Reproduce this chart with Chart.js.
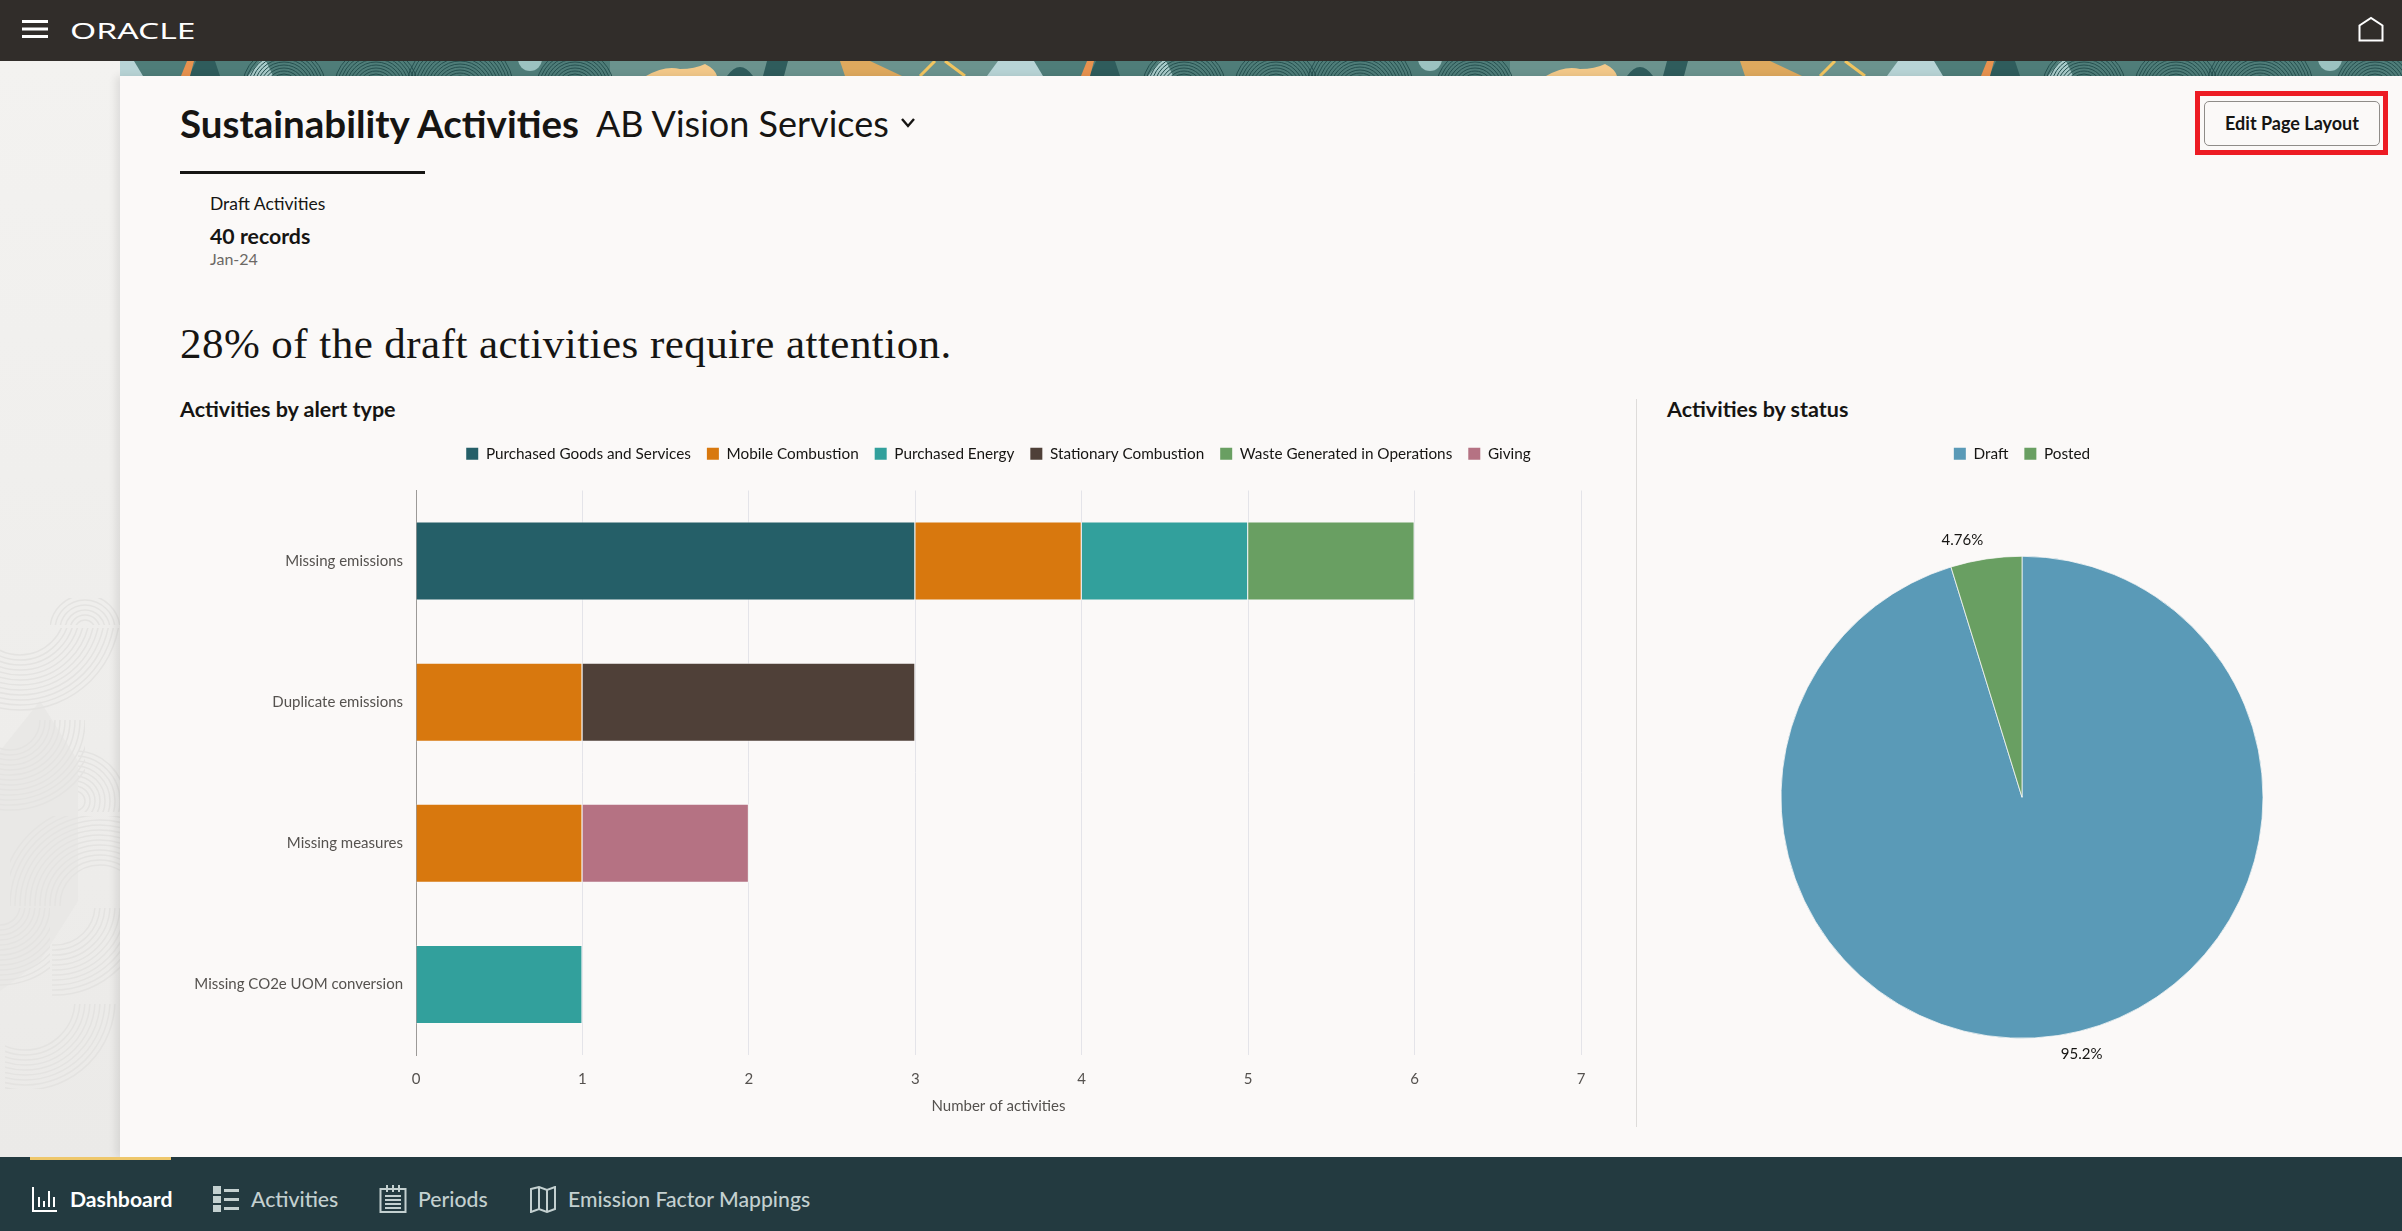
<!DOCTYPE html>
<html>
<head>
<meta charset="utf-8">
<title>Sustainability Activities</title>
<script src="https://cdn.jsdelivr.net/npm/chart.js@4/dist/chart.umd.js"></script>
<style>
  html, body { margin: 0; padding: 0; width: 2402px; height: 1231px; overflow: hidden; background: #fbf9f8; font-family: Lato, "Noto Sans", sans-serif; color: #161513; }
  .abs { position: absolute; white-space: nowrap; }
  #topbar { position: absolute; left: 0; top: 0; width: 2402px; height: 61px; background: #312d2a; }
  #banner { position: absolute; left: 0; top: 61px; width: 2402px; height: 15px; }
  #side { position: absolute; left: 0; top: 61px; width: 120px; height: 1096px; background: linear-gradient(#f3f2f0, #ebeae8); }
  #card { position: absolute; left: 120px; top: 76px; width: 2282px; height: 1081px; background: #fbf9f8; box-shadow: -4px 0 8px rgba(0,0,0,.09); }
  #footer { position: absolute; left: 0; top: 1157px; width: 2402px; height: 74px; background: #233a40; }
  #tab { position: absolute; left: 30px; top: 1157px; width: 141px; height: 3px; background: #eec76b; }
  .nav { font-size: 21.2px; line-height: 28px; top: 1185px; color: #c3d0d0; font-weight: 500; }
  .sec { font-size: 21.5px; line-height: 24px; font-weight: 700; top: 397px; }
  canvas { position: absolute; }
</style>
</head>
<body>
<div id="topbar"></div>
<svg id="banner" width="2402" height="15"></svg>
<div id="side"><svg id="swirl" width="120" height="1096"></svg></div>
<div id="card"></div>

<!-- header bar -->
<svg class="abs" style="left:22px;top:20px" width="26" height="18"><path d="M0 1.5H26M0 9H26M0 16.5H26" stroke="#fff" stroke-width="3"/></svg>
<div class="abs" style="left:70px;top:16px;font-size:21px;line-height:30px;color:#fff;transform:scaleX(1.6);transform-origin:left center;font-family:'Noto Sans';font-weight:400;">ORACLE</div>
<svg class="abs" style="left:2358px;top:16px" width="26" height="26"><path d="M1.5 24.5V9.5L13 2L24.5 9.5V24.5Z" fill="none" stroke="#fff" stroke-width="2"/></svg>

<!-- page header -->
<div class="abs" style="left:180px;top:100px;font-size:38.5px;line-height:46px;font-weight:700;">Sustainability Activities</div>
<div class="abs" style="left:596px;top:100px;font-size:36px;line-height:46px;font-weight:400;">AB Vision Services</div>
<svg class="abs" style="left:900px;top:117px" width="16" height="12"><path d="M2 2L8 9L14 2" fill="none" stroke="#161513" stroke-width="2.4"/></svg>
<div class="abs" style="left:180px;top:171px;width:245px;height:3px;background:#161513"></div>
<div class="abs" style="left:210px;top:193px;font-size:17.5px;line-height:22px;">Draft Activities</div>
<div class="abs" style="left:210px;top:223px;font-size:21.3px;line-height:26px;font-weight:700;">40 records</div>
<div class="abs" style="left:210px;top:250px;font-size:16px;line-height:18px;color:#6b6865;">Jan-24</div>
<div class="abs" style="left:180px;top:318px;font-size:43px;line-height:52px;letter-spacing:.45px;font-family:'Liberation Serif',serif;">28% of the draft activities require attention.</div>

<!-- edit button with red marker -->
<div class="abs" style="left:2195px;top:91px;width:183px;height:54px;border:5px solid #ed1c24;"></div>
<div class="abs" style="left:2204px;top:101px;width:174px;height:43px;border:1px solid #8f8c89;border-radius:5px;text-align:center;font-size:18px;line-height:43px;font-weight:700;">Edit Page Layout</div>

<!-- section heads -->
<div class="abs sec" style="left:180px;">Activities by alert type</div>
<div class="abs sec" style="left:1667px;">Activities by status</div>
<div class="abs" style="left:1636px;top:399px;width:1px;height:728px;background:#dedcda"></div>

<canvas id="chart-alert" width="1440" height="700" style="left:170px;top:430px"></canvas>
<canvas id="chart-status" width="724" height="674" style="left:1660px;top:430px"></canvas>

<!-- bottom nav -->
<div id="footer"></div>
<div id="tab"></div>
<svg class="abs" style="left:31px;top:1186px" width="27" height="27" fill="none" stroke="#fff" stroke-width="2"><path d="M2 1V25H26M8 21V11M13 21V15M18 21V5M23 21V11"/></svg>
<div class="abs nav" style="left:70px;color:#fff;font-weight:700;">Dashboard</div>
<svg class="abs" style="left:213px;top:1186px" width="27" height="27" fill="#c3d0d0"><path d="M0 0H8V8H0ZM0 10H8V17H0ZM0 19H8V26H0ZM11 3H26V6H11ZM11 12H26V15H11ZM11 21H26V24H11Z"/></svg>
<div class="abs nav" style="left:251px;">Activities</div>
<svg class="abs" style="left:379px;top:1184px" width="28" height="30" fill="none" stroke="#c3d0d0" stroke-width="2"><path d="M1.5 5H26.5V28H1.5ZM8 1V8M14 1V8M20 1V8M6 12H22M6 16H22M6 20H22M6 24H22"/></svg>
<div class="abs nav" style="left:418px;">Periods</div>
<svg class="abs" style="left:530px;top:1186px" width="27" height="27" fill="none" stroke="#c3d0d0" stroke-width="2"><path d="M1 3L9 1L17 4L25 1V23L17 26L9 23L1 26ZM9 1V23M17 4V26"/></svg>
<div class="abs nav" style="left:568px;">Emission Factor Mappings</div>

<script>
/* ------------------------------
 * chart values
 * ------------------------------ */
const alertTypes = ['Missing emissions', 'Duplicate emissions', 'Missing measures', 'Missing CO2e UOM conversion'];
const purchasedGoods = [3, null, null, null];
const mobileCombustion = [1, 1, 1, null];
const purchasedEnergy = [1, null, null, 1];
const stationaryCombustion = [null, 2, null, null];
const wasteGenerated = [1, null, null, null];
const giving = [null, null, 1, null];
const activityTicks = [0, 1, 2, 3, 4, 5, 6, 7];

const statuses = ['Draft', 'Posted'];
const statusCounts = [40, 2];
const statusLabels = ['95.2%', '4.76%'];

const COLORS = {
  goods: '#255f68',
  mobile: '#d8780e',
  energy: '#32a09c',
  stationary: '#4f4038',
  waste: '#699f62',
  giving: '#b57283',
  draft: '#5a9ab7',
  posted: '#699f62',
  seam: 'rgba(251,249,248,.75)'
};
const FONT = 'Lato, "Noto Sans", sans-serif';

Chart.defaults.font.family = FONT;
Chart.defaults.animation = false;

/* ------------------------------
 * legend: extra room under the legend row
 * ------------------------------ */
const legendGap = {
  id: 'legendGap',
  beforeLayout(chart) {
    const legend = chart.legend;
    if (legend._gapDone) return;
    const fit = legend.fit;
    legend.fit = function () {
      fit.call(this);
      this.height += 19.2;
    };
    legend._gapDone = true;
  }
};

const legendOptions = {
  position: 'top',
  fullSize: false,
  labels: {
    boxWidth: 12,
    boxHeight: 12,
    padding: 16,
    color: '#161513',
    font: { size: 15.3 },
    filter(item) { item.lineWidth = 0; return true; }
  }
};

/* ------------------------------
 * 1) activities by alert type (stacked bars)
 * ------------------------------ */
function barSet(label, data, color) {
  return { label, data, backgroundColor: color, borderColor: COLORS.seam, borderWidth: 1, barPercentage: 0.56, categoryPercentage: 1 };
}

new Chart(document.getElementById('chart-alert'), {
  type: 'bar',
  plugins: [legendGap],
  data: {
    labels: alertTypes,
    datasets: [
      barSet('Purchased Goods and Services', purchasedGoods, COLORS.goods),
      barSet('Mobile Combustion', mobileCombustion, COLORS.mobile),
      barSet('Purchased Energy', purchasedEnergy, COLORS.energy),
      barSet('Stationary Combustion', stationaryCombustion, COLORS.stationary),
      barSet('Waste Generated in Operations', wasteGenerated, COLORS.waste),
      barSet('Giving', giving, COLORS.giving)
    ]
  },
  options: {
    indexAxis: 'y',
    responsive: false,
    layout: { padding: { right: 29 } },
    scales: {
      x: {
        stacked: true,
        min: activityTicks[0],
        max: activityTicks[activityTicks.length - 1],
        afterBuildTicks(scale) { scale.ticks = activityTicks.map(v => ({ value: v })); },
        afterFit(scale) { scale.height = 75; },
        grid: { color: '#e4e4e9', drawTicks: false },
        border: { display: false },
        ticks: { padding: 15, color: '#55524f', font: { size: 15 } },
        title: { display: true, text: 'Number of activities', color: '#55524f', font: { size: 15 }, padding: { top: 0, bottom: 15 } }
      },
      y: {
        stacked: true,
        afterFit(scale) { scale.width = 246; },
        grid: { display: false, drawTicks: false },
        border: { color: '#9c9a98' },
        ticks: { padding: 13, color: '#55524f', font: { size: 15 } }
      }
    },
    plugins: {
      legend: legendOptions,
      tooltip: { enabled: false }
    }
  }
});

/* ------------------------------
 * 2) activities by status (pie)
 * ------------------------------ */
const sliceLabels = {
  id: 'sliceLabels',
  afterDraw(chart) {
    const ctx = chart.ctx;
    ctx.save();
    ctx.font = '15px ' + FONT;
    ctx.fillStyle = '#161513';
    ctx.textBaseline = 'middle';
    chart.getDatasetMeta(0).data.forEach((arc, i) => {
      const mid = (arc.startAngle + arc.endAngle) / 2;
      const r = arc.outerRadius + 19;
      const x = arc.x + Math.cos(mid) * r;
      const y = arc.y + Math.sin(mid) * r;
      ctx.textAlign = Math.cos(mid) < 0 ? 'right' : 'left';
      ctx.fillText(statusLabels[i], x, y);
    });
    ctx.restore();
  }
};

new Chart(document.getElementById('chart-status'), {
  type: 'pie',
  plugins: [legendGap, sliceLabels],
  data: {
    labels: statuses,
    datasets: [{
      data: statusCounts,
      backgroundColor: [COLORS.draft, COLORS.posted],
      borderColor: COLORS.seam,
      borderWidth: 1
    }]
  },
  options: {
    responsive: false,
    radius: 241,
    plugins: {
      legend: legendOptions,
      tooltip: { enabled: false }
    }
  }
});

/* ------------------------------
 * decoration: banner strip and side panel
 * ------------------------------ */
function arcs(cx, cy, r0, r1, step, color, w) {
  let s = '';
  for (let r = r0; r <= r1; r += step) s += `<circle cx="${cx}" cy="${cy}" r="${r}" fill="none" stroke="${color}" stroke-width="${w}"/>`;
  return s;
}

let tile = `<rect width="490" height="15" fill="#4f7d79"/><rect x="490" width="410" height="15" fill="#6b938e"/>
  <path d="M0 0H14L23 15H0Z" fill="#b8d4d6"/>
  <path d="M878 0H900V15H867Z" fill="#b8d4d6"/>
  <path d="M128 15L140 0H146L153 15Z" fill="#a9cbca"/>
  <circle cx="410" cy="-2" r="12" fill="#9cc2c0"/>
  <path d="M69 15L76 0H95L100 15Z" fill="#2f5c5c"/>
  <path d="M61 15L67 0H74L70 15Z" fill="#e8924f"/>
  <path d="M526 15Q545 4 560 8Q575 8 585 3Q595 8 597 15Z" fill="#f3c98a"/>
  <path d="M607 15Q620 -3 633 15Z" fill="#2f5c5c"/>
  <path d="M647 0H668L664 15H643Z" fill="#2f5c5c"/>
  <path d="M720 0H750L782 15H725Z" fill="#dfa95e"/>
  <path d="M800 15L815 0M825 0L845 15" stroke="#f2c560" stroke-width="3" fill="none"/>`;
tile += arcs(164, 28, 6, 44, 3, '#244f4e', 1);
tile += arcs(256, 28, 6, 44, 3, '#244f4e', 1);
tile += arcs(340, 30, 6, 56, 3, '#244f4e', 1);
tile += arcs(455, 28, 6, 40, 3, '#244f4e', 1);

document.getElementById('banner').innerHTML =
  `<defs><pattern id="tile" x="120" width="900" height="15" patternUnits="userSpaceOnUse">${tile}</pattern></defs>
   <rect width="2402" height="15" fill="url(#tile)"/>`;

// clip box + arc group, in side panel coordinates
const swirls = [
  [0, 567, 120, 92, 20, 549, 45, 100],
  [0, 659, 85, 92, 10, 659, 30, 90],
  [10, 755, 110, 90, 100, 844, 40, 100],
  [52, 847, 68, 90, 55, 844, 40, 90],
  [0, 847, 50, 85, 0, 844, 20, 80],
  [5, 943, 115, 85, 25, 939, 50, 90],
  [50, 537, 70, 27, 85, 569, 10, 35],
  [78, 659, 42, 92, 75, 740, 10, 50]
];
document.getElementById('swirl').innerHTML =
  `<path d="M0 690L40 640L78 700L78 840L40 900L0 930Z" fill="#e9e8e6"/>` +
  swirls.map((s, i) =>
  `<clipPath id="c${i}"><rect x="${s[0]}" y="${s[1]}" width="${s[2]}" height="${s[3]}"/></clipPath>
   <g clip-path="url(#c${i})">${arcs(s[4], s[5], s[6], s[7], 5, '#e4e3e1', 1.5)}</g>`).join('');
</script>
</body>
</html>
